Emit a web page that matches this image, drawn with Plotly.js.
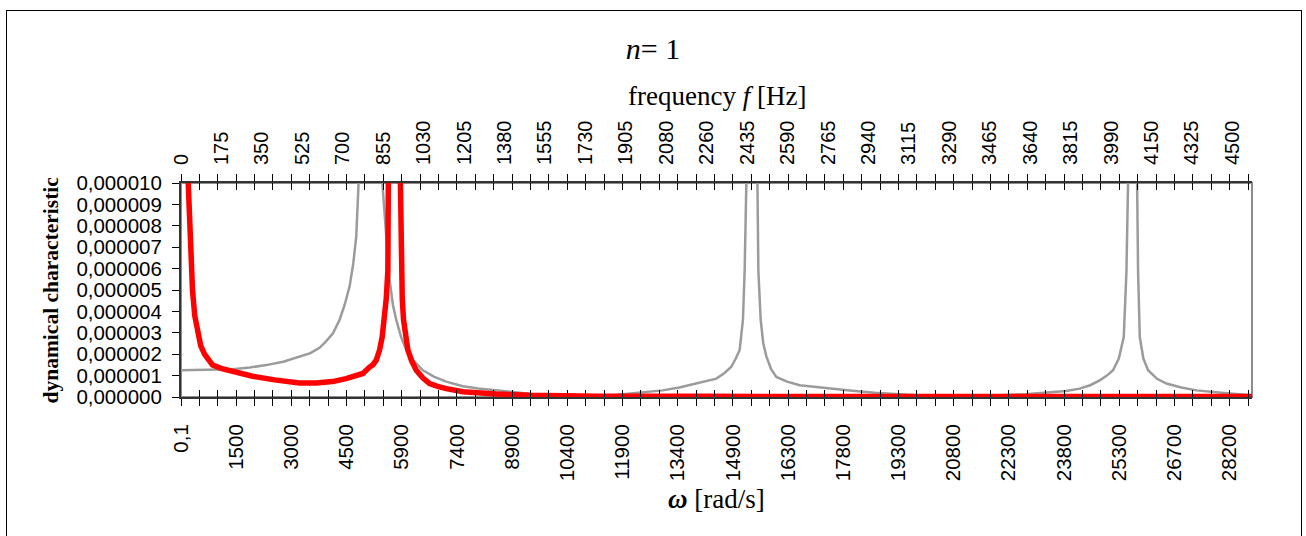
<!DOCTYPE html>
<html>
<head>
<meta charset="utf-8">
<script src="https://cdn.plot.ly/plotly-3.0.1.min.js"></script>
<style>
  html, body { margin:0; padding:0; background:#fff; }
  #wrap { position:relative; width:1306px; height:536px; overflow:hidden; }
  #chart { position:absolute; left:0; top:0; width:1306px; height:536px; }
  #frame { position:absolute; left:6px; top:10px; width:1296px; height:600px;
           border:1.5px solid #000; box-sizing:border-box; pointer-events:none; }
</style>
</head>
<body>
<div id="wrap">
  <div id="chart"></div>
  <div id="frame"></div>
</div>
<script>
// ---- data (omega in rad/s, response values) ----
const omegaGray = [0.1,700,1385,1850,2292,2750,3188,3480,3726,3900,4083,4264,4400,4533,4630,4713,4788,4882,5084,5286,5380,5428,5475,5520,5609,5700,5789,5920,6058,6280,6504,6800,7134,7580,8000,8479,8900,9375,9800,10262,10700,11169,11600,12065,12500,12952,13400,13859,14150,14397,14600,14795,14920,15024,15112,15158,15204,15252,15346,15441,15489,15527,15589,15660,15742,15870,16011,16300,16638,17300,17983,18650,19328,20000,20673,21350,22018,22700,23363,23800,24170,24450,24708,24900,25065,25220,25353,25426,25469,25515,25582,25649,25703,25738,25784,25880,26007,26250,26502,26900,27309,27750,28205,28802];
const valueGray = [1.25e-6,1.27e-6,1.30e-6,1.38e-6,1.49e-6,1.65e-6,1.88e-6,2.05e-6,2.3e-6,2.6e-6,2.97e-6,3.6e-6,4.3e-6,5.16e-6,6.2e-6,7.5e-6,10.5e-6,20e-6,80e-6,20e-6,11e-6,9.7e-6,8.4e-6,7.5e-6,5.5e-6,4.3e-6,3.6e-6,2.8e-6,2.2e-6,1.65e-6,1.25e-6,0.95e-6,0.72e-6,0.5e-6,0.4e-6,0.31e-6,0.22e-6,0.13e-6,0.07e-6,0.03e-6,0.02e-6,0.03e-6,0.08e-6,0.16e-6,0.23e-6,0.31e-6,0.44e-6,0.62e-6,0.74e-6,0.86e-6,1.1e-6,1.4e-6,1.8e-6,2.2e-6,3.6e-6,5.9e-6,10e-6,20e-6,80e-6,20e-6,10e-6,5.9e-6,3.6e-6,2.5e-6,1.9e-6,1.3e-6,0.94e-6,0.72e-6,0.55e-6,0.42e-6,0.3e-6,0.2e-6,0.12e-6,0.06e-6,0.03e-6,0.04e-6,0.08e-6,0.13e-6,0.2e-6,0.28e-6,0.39e-6,0.55e-6,0.78e-6,1.0e-6,1.25e-6,1.8e-6,2.8e-6,5.9e-6,10e-6,20e-6,80e-6,20e-6,10e-6,5.9e-6,2.8e-6,1.8e-6,1.25e-6,0.85e-6,0.63e-6,0.44e-6,0.31e-6,0.22e-6,0.16e-6,0.08e-6];

const omegaRed = [0.1,60,121,150,183,215,247,278,309,370,444,530,632,740,847,1100,1385,1650,1923,2515,2850,3188,3630,4075,4441,4700,4890,5071,5159,5251,5340,5410,5474,5520,5563,5627,5681,5789,5891,5923,5950,5985,6040,6101,6200,6327,6500,6685,6900,7134,7580,8000,8479,9375,10300,11177,13948,19328,24708,28802];
const valueRed = [200e-6,60e-6,30e-6,18e-6,10.5e-6,8.8e-6,7.5e-6,6.1e-6,5.0e-6,3.8e-6,3.0e-6,2.4e-6,2.0e-6,1.7e-6,1.5e-6,1.32e-6,1.2e-6,1.08e-6,0.97e-6,0.8e-6,0.71e-6,0.66e-6,0.66e-6,0.72e-6,0.86e-6,0.98e-6,1.1e-6,1.4e-6,1.5e-6,1.72e-6,2.19e-6,2.8e-6,3.6e-6,4.6e-6,5.9e-6,9.1e-6,11e-6,80e-6,11e-6,5.9e-6,4.6e-6,3.6e-6,2.8e-6,2.2e-6,1.7e-6,1.25e-6,0.9e-6,0.63e-6,0.5e-6,0.39e-6,0.25e-6,0.19e-6,0.14e-6,0.08e-6,0.05e-6,0.04e-6,0.03e-6,0.02e-6,0.02e-6,0.02e-6];

// ---- tick labels ----
const omegaLabels = ["0,1","1500","3000","4500","5900","7400","8900","10400","11900","13400","14900","16300","17800","19300","20800","22300","23800","25300","26700","28200"];
const freqLabels = ["0","175","350","525","700","855","1030","1205","1380","1555","1730","1905","2080","2260","2435","2590","2765","2940","3115","3290","3465","3640","3815","3990","4150","4325","4500"];

// ---- axis geometry from the category layout ----
const OMEGA_MIN = 0.1;
const OMEGA_MAX = 28802;
const TICKS_PER_LABEL = 3;
const N_TICKS = 59;
const STEP = (28200 - OMEGA_MIN) / ((omegaLabels.length - 1) * TICKS_PER_LABEL);
const tickVals = [], tickText = [];
for (let k = 0; k < N_TICKS; k++) {
  tickVals.push(OMEGA_MIN + k * STEP);
  tickText.push(k % TICKS_PER_LABEL === 0 && omegaLabels[k / TICKS_PER_LABEL] !== undefined ? omegaLabels[k / TICKS_PER_LABEL] : "");
}
const F_MAX = OMEGA_MAX / (2 * Math.PI);
const F_STEP = 4500 / (freqLabels.length - 1);
const fTickVals = freqLabels.map((_, j) => j * F_STEP);

const sans = "Liberation Sans, Arial, sans-serif";
const serif = "Liberation Serif, Times New Roman, serif";

const traces = [
  {x: omegaGray, y: valueGray, type: "scatter", mode: "lines",
   line: {color: "rgb(155,155,155)", width: 2.5}, hoverinfo: "skip"},
  {x: omegaRed, y: valueRed, type: "scatter", mode: "lines",
   line: {color: "#ff0000", width: 5.5}, hoverinfo: "skip"},
  {x: [], y: [], xaxis: "x2", type: "scatter", mode: "lines"},
  {x: [], y: [], xaxis: "x3", type: "scatter", mode: "lines"}
];

const layout = {
  width: 1306, height: 536,
  margin: {l: 181, r: 54, t: 183, b: 139, pad: 0},
  paper_bgcolor: "rgba(0,0,0,0)",
  plot_bgcolor: "#fff",
  separators: ",.",
  showlegend: false,
  title: {text: "<i>n</i>= 1", font: {family: serif, size: 30, color: "#000"},
          x: 0.5, xref: "container", xanchor: "center",
          y: 1 - 48 / 536, yref: "container", yanchor: "middle"},
  xaxis: {range: [OMEGA_MIN, OMEGA_MAX], tickmode: "array", tickvals: tickVals, ticktext: tickText,
          tickangle: -90, ticks: "outside", ticklen: 7, tickwidth: 1, tickcolor: "#000",
          showline: true, linecolor: "#333", linewidth: 2, mirror: "allticks",
          showgrid: false, zeroline: false, ticklabelstandoff: 10,
          tickfont: {family: sans, size: 20.5, color: "#000"}},
  xaxis3: {overlaying: "x", anchor: "y", side: "bottom", range: [OMEGA_MIN, OMEGA_MAX],
           tickmode: "array", tickvals: tickVals, ticks: "inside", ticklen: 7, tickwidth: 1,
           tickcolor: "#000", mirror: "allticks", showticklabels: false, showline: false,
           showgrid: false, zeroline: false},
  xaxis2: {overlaying: "x", anchor: "y", side: "top", range: [0, F_MAX],
           tickmode: "array", tickvals: fTickVals, ticktext: freqLabels, tickangle: -90,
           ticks: "", showline: false, showgrid: false, zeroline: false,
           ticklabelstandoff: 17,
           tickfont: {family: sans, size: 20, color: "#000"}},
  yaxis: {range: [0, 1e-5], tick0: 0, dtick: 1e-6, tickformat: ".6f",
          ticks: "outside", ticklen: 7, tickwidth: 1, tickcolor: "#000",
          showline: true, linecolor: "#333", linewidth: 2,
          showgrid: false, zeroline: false, ticklabelstandoff: 6,
          tickfont: {family: sans, size: 20.5, color: "#000"}},
  shapes: [
    {type: "rect", xref: "paper", yref: "paper", x0: 0, x1: 1, y0: 0, y1: 1,
     line: {color: "#8c8c8c", width: 2}, layer: "below"}
  ],
  annotations: [
    {text: "frequency <i>f</i> [Hz]", xref: "paper", yref: "paper", x: 0.5, y: (396.7 - 97) / 213.4,
     xanchor: "center", yanchor: "middle", showarrow: false,
     font: {family: serif, size: 27, color: "#000"}},
    {text: "<b><i>ω</i></b> [rad/s]", xref: "paper", yref: "paper", x: 0.5, y: (396.7 - 498) / 213.4,
     xanchor: "center", yanchor: "middle", showarrow: false,
     font: {family: serif, size: 27, color: "#000"}},
    {text: "<b>dynamical characteristic</b>", xref: "paper", yref: "paper",
     x: (52 - 181.5) / 1070.7, y: 0.5, textangle: -90,
     xanchor: "center", yanchor: "middle", showarrow: false,
     font: {family: serif, size: 21.5, color: "#000"}}
  ]
};

Plotly.newPlot("chart", traces, layout, {staticPlot: true, displayModeBar: false});
</script>
</body>
</html>
